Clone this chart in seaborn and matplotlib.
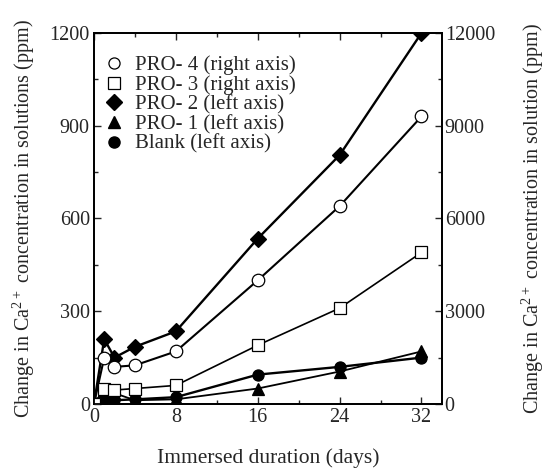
import numpy as np
import pandas as pd
import matplotlib
matplotlib.use("Agg")
import matplotlib.pyplot as plt
from matplotlib.lines import Line2D
from matplotlib.ticker import MultipleLocator
import seaborn as sns

# immersion days
days = [0, 1, 2, 4, 8, 16, 24, 32]

# right axis series (ppm)
pro4 = [0, 1500, 1200, 1250, 1700, 4000, 6400, 9300]
pro3 = [0, 500, 450, 500, 600, 1900, 3100, 4900]

# left axis series (ppm)
pro2 = [0, 210, 150, 185, 235, 535, 805, 1200]
pro1 = [0, 45, 35, 12, 15, 50, 105, 170]
blank = [0, 15, 12, 15, 22, 95, 120, 150]

sns.set_style("ticks")
plt.rcParams["font.family"] = ["Liberation Serif", "DejaVu Serif"]
plt.rcParams["mathtext.default"] = "regular"

fig = plt.figure(figsize=(5.48, 4.68), dpi=100)
ax = fig.add_axes([0.1715, 0.1368, 0.635, 0.7927])
ax2 = ax.twinx()

left_series = [
    ("PRO- 2 (left axis)", pro2, "D", "black", 8, 1.7),
    ("PRO- 1 (left axis)", pro1, "^", "black", 8, 1.3),
    ("Blank (left axis)", blank, "o", "black", 8, 1.7),
]
right_series = [
    ("PRO- 4 (right axis)", pro4, "o", "white", 9, 1.5),
    ("PRO- 3 (right axis)", pro3, "s", "white", 9, 1.2),
]

for name, vals, mk, fc, ms, lw in left_series:
    df = pd.DataFrame({"day": days, "ppm": vals})
    sns.lineplot(data=df, x="day", y="ppm", ax=ax, color="black", lw=lw,
                 marker=mk, markersize=ms, markerfacecolor=fc,
                 markeredgecolor="black", markeredgewidth=0.9, legend=False)

for name, vals, mk, fc, ms, lw in right_series:
    df = pd.DataFrame({"day": days, "ppm": vals})
    sns.lineplot(data=df, x="day", y="ppm", ax=ax2, color="black", lw=lw,
                 marker=mk, markersize=ms, markerfacecolor=fc,
                 markeredgecolor="black", markeredgewidth=0.9, legend=False)

ax.set_xlim(0, 34)
ax.set_ylim(0, 1200)
ax2.set_ylim(0, 12000)

ax.xaxis.set_major_locator(MultipleLocator(8))
ax.xaxis.set_minor_locator(MultipleLocator(4))
ax.yaxis.set_major_locator(MultipleLocator(300))
ax.yaxis.set_minor_locator(MultipleLocator(150))
ax2.yaxis.set_major_locator(MultipleLocator(3000))
ax2.yaxis.set_minor_locator(MultipleLocator(1500))

ax.tick_params(axis="x", which="both", direction="in", top=True, labelsize=14.5, pad=3)
ax.tick_params(axis="y", which="both", direction="in", labelsize=14.5, pad=3)
ax2.tick_params(axis="y", which="both", direction="in", labelsize=14.5, pad=2)
for a in (ax, ax2):
    a.tick_params(which="major", length=5, width=1)
    a.tick_params(which="minor", length=3, width=1)
    for sp in a.spines.values():
        sp.set_linewidth(1.3)
        sp.set_color("black")

ax.set_xlabel("Immersed duration (days)", fontsize=15.5, labelpad=15)
ax.set_ylabel("Change in Ca$^{2+}$ concentration in solutions (ppm)", fontsize=14.5, labelpad=9)
ax2.set_ylabel("Change in Ca$^{2+}$ concentration in solution (ppm)", fontsize=14.5, labelpad=18)

handles = [
    Line2D([], [], ls="none", marker="o", ms=8, mfc="white", mec="black", mew=0.9),
    Line2D([], [], ls="none", marker="s", ms=8, mfc="white", mec="black", mew=0.9),
    Line2D([], [], ls="none", marker="D", ms=8, mfc="black", mec="black"),
    Line2D([], [], ls="none", marker="^", ms=8, mfc="black", mec="black"),
    Line2D([], [], ls="none", marker="o", ms=8, mfc="black", mec="black"),
]
labels = ["PRO- 4 (right axis)", "PRO- 3 (right axis)", "PRO- 2 (left axis)",
          "PRO- 1 (left axis)", "Blank (left axis)"]
ax2.legend(handles, labels, loc="upper left", bbox_to_anchor=(-0.032, 0.978),
           frameon=False, fontsize=15, handletextpad=0.2, labelspacing=0.0,
           handlelength=1.6, borderaxespad=0.3)

fig.savefig("out.png", dpi=100)
